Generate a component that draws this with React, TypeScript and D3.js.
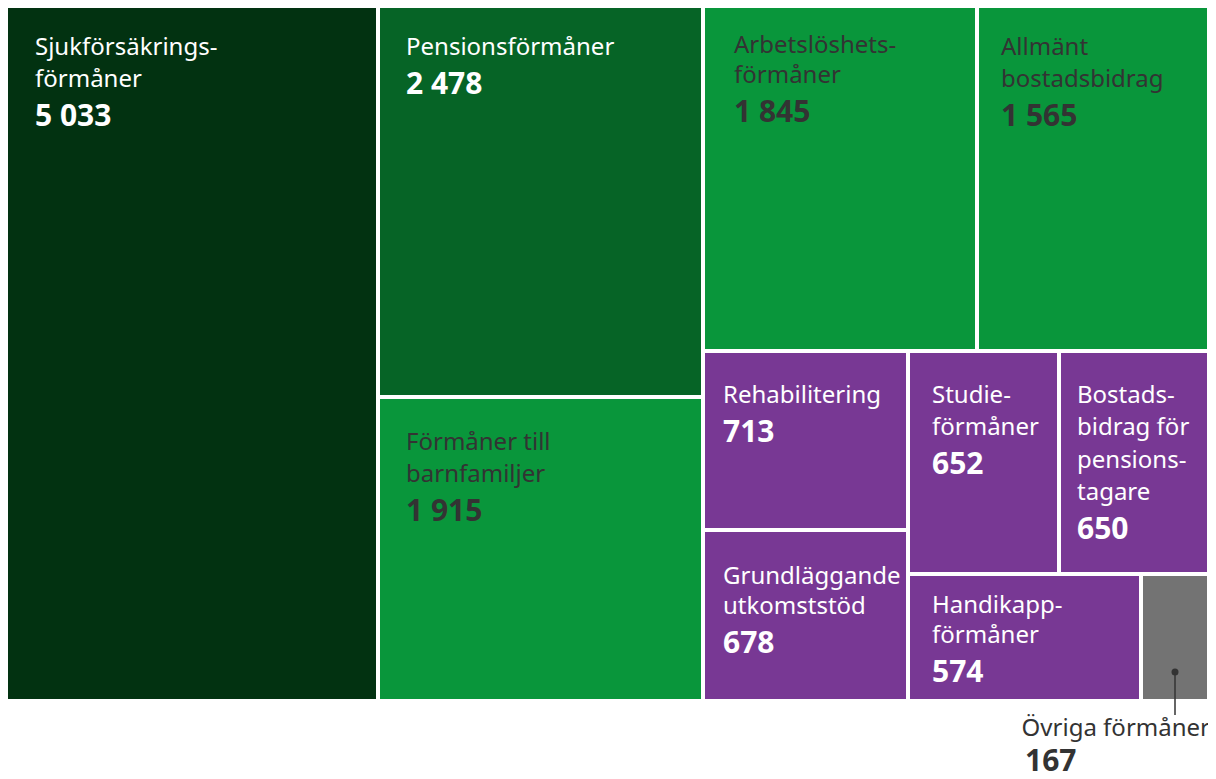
import React from "react";
import * as d3 from "d3";

const categories = [
  "Sjukförsäkringsförmåner",
  "Pensionsförmåner",
  "Förmåner till barnfamiljer",
  "Arbetslöshetsförmåner",
  "Allmänt bostadsbidrag",
  "Rehabilitering",
  "Grundläggande utkomststöd",
  "Studieförmåner",
  "Bostadsbidrag för pensionstagare",
  "Handikappförmåner",
  "Övriga förmåner",
];
const values = [5033, 2478, 1915, 1845, 1565, 713, 678, 652, 650, 574, 167];
const labelLines = [
  ["Sjukförsäkrings-", "förmåner"],
  ["Pensionsförmåner"],
  ["Förmåner till", "barnfamiljer"],
  ["Arbetslöshets-", "förmåner"],
  ["Allmänt", "bostadsbidrag"],
  ["Rehabilitering"],
  ["Grundläggande", "utkomststöd"],
  ["Studie-", "förmåner"],
  ["Bostads-", "bidrag för", "pensions-", "tagare"],
  ["Handikapp-", "förmåner"],
  ["Övriga förmåner"],
];
const groups = ["dark", "mid", "green", "green", "green", "purple", "purple", "purple", "purple", "purple", "grey"];
const valueLabels = ["5 033", "2 478", "1 915", "1 845", "1 565", "713", "678", "652", "650", "574", "167"];

// nesting of the treemap (indices into the arrays above)
const nesting: any = [
  0,
  [1, 2],
  [
    [3, 4],
    [
      [5, 6],
      [
        [7, 8],
        [9, 10],
      ],
    ],
  ],
];

const fills: Record<string, string> = {
  dark: "#023211",
  mid: "#066426",
  green: "#09963b",
  purple: "#783894",
  grey: "#737373",
};
const textFills: Record<string, string> = {
  dark: "#ffffff",
  mid: "#ffffff",
  green: "#333333",
  purple: "#ffffff",
  grey: "#333333",
};
// label placement inside each tile: [dx, baseline dy of first line, line height]
const labelPos: Record<number, [number, number, number]> = {
  0: [27, 50, 32],
  1: [26, 50, 32],
  2: [26, 51, 32],
  3: [29, 48, 30],
  4: [22, 50, 32],
  5: [18, 50, 32],
  6: [18, 52, 30],
  7: [22, 50, 32],
  8: [16, 50, 32.3],
  9: [22, 37, 30],
};

const W = 1216;
const H = 779;
const FONT = "'Noto Sans', 'DejaVu Sans', sans-serif";

function build(n: any): any {
  if (typeof n === "number") return { i: n, value: values[n] };
  return { children: n.map(build) };
}

export default function App() {
  const root = d3.hierarchy<any>(build(nesting)).sum((d: any) => d.value || 0);
  d3.treemap<any>()
    .tile(d3.treemapSliceDice)
    .size([1199, 694])
    .paddingInner(4)
    .round(true)(root);
  const leaves = root.leaves() as any[];

  return (
    <div style={{ margin: -8 }}>
      <svg width={W} height={H} style={{ display: "block", fontFamily: FONT }}>
        <rect width={W} height={H} fill="#ffffff" />
        <g transform="translate(8,5)">
          {leaves.map((l) => {
            const i = l.data.i;
            const g = groups[i];
            const x = l.x0;
            const y = l.y0;
            const lines = labelLines[i];
            const cx = (x + l.x1) / 2;
            if (g === "grey") {
              return (
                <g key={i}>
                  <rect x={x} y={y} width={l.x1 - l.x0} height={l.y1 - l.y0} fill={fills[g]} />
                  <circle cx={cx} cy={l.y1 - 27} r={3.5} fill="#333" />
                  <line x1={cx} x2={cx} y1={l.y1 - 27} y2={l.y1 + 16} stroke="#333" strokeWidth={1.5} />
                  <text x={l.x1 + 3} y={l.y1 + 37} textAnchor="end" fontSize={24} fill="#333">
                    {lines[0]}
                  </text>
                  <text x={1017} y={l.y1 + 72} fontSize={30} fontWeight="bold" fill="#333">
                    {valueLabels[i]}
                  </text>
                </g>
              );
            }
            const [dx, dy, lh] = labelPos[i];
            return (
              <g key={i}>
                <rect x={x} y={y} width={l.x1 - l.x0} height={l.y1 - l.y0} fill={fills[g]} />
                <g fill={textFills[g]}>
                  <text x={x + dx} y={y + dy} fontSize={24}>
                    {lines.map((t: string, k: number) => (
                      <tspan key={k} x={x + dx} dy={k === 0 ? 0 : lh}>
                        {t}
                      </tspan>
                    ))}
                  </text>
                  <text x={x + dx} y={y + dy + (lines.length - 1) * lh + 39} fontSize={30} fontWeight="bold">
                    {valueLabels[i]}
                  </text>
                </g>
              </g>
            );
          })}
        </g>
      </svg>
    </div>
  );
}
